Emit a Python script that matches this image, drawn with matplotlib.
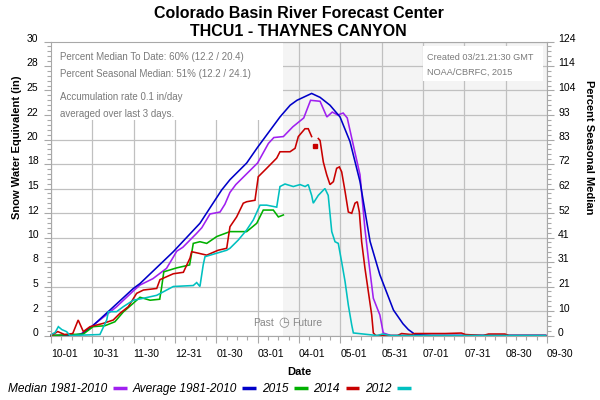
import numpy as np
import matplotlib
matplotlib.use("Agg")
import matplotlib.pyplot as plt
from matplotlib.lines import Line2D
from matplotlib.patches import Rectangle
from matplotlib.transforms import ScaledTranslation, blended_transform_factory

plt.rcParams['font.family'] = ['Liberation Sans', 'DejaVu Sans']

# ---------------- data (day of water year from 10-01, SWE inches) ----------------
median_days = [0, 20, 26, 48, 61, 65.5, 75, 85, 90, 92.5, 97, 102, 107, 111, 114, 117, 124.4, 128, 131.7, 136, 144, 152, 156, 160, 164, 171, 178, 186, 191, 198, 203, 207, 211, 215, 218, 222.5, 227.4, 231, 233.5, 237.2, 240, 242, 244.5, 250, 300, 364]
median_vals = [0, 0, 0.5, 2.9, 4.6, 5.15, 5.8, 6.85, 8.0, 8.6, 9.0, 9.7, 10.4, 11.0, 11.7, 12.4, 12.6, 13.4, 14.6, 15.4, 16.5, 17.6, 18.6, 19.6, 20.2, 20.3, 21.3, 22.2, 24.0, 23.9, 22.3, 22.8, 22.5, 22.7, 22.2, 19.4, 16.4, 10.9, 7.9, 3.8, 2.8, 2.1, 0.26, 0, 0, 0]

average_days = [0, 15, 22.6, 30, 43.4, 60.6, 65.5, 90, 109.6, 125.6, 131.7, 144, 152, 168.5, 176, 181, 191.8, 198, 205.3, 212.7, 220, 227.4, 234.8, 242, 252, 259, 263, 268, 280, 364]
average_vals = [0, 0, 0.15, 0.9, 2.6, 4.8, 5.3, 8.55, 11.45, 14.85, 15.9, 17.6, 19.2, 22.3, 23.5, 24.0, 24.7, 24.3, 23.5, 22.3, 19.8, 15.7, 9.6, 6.2, 2.6, 1.2, 0.6, 0.1, 0, 0]

y2015_days = [0, 15, 23.8, 31, 39.7, 47, 53.2, 60.6, 65.5, 72.9, 80, 81.5, 83, 92.5, 102, 103.5, 104.7, 109.6, 114.6, 122, 131.7, 144, 151.4, 156.2, 163.6, 167.3, 171]
y2015_vals = [0, 0.1, 0.15, 0.9, 1.0, 1.4, 2.4, 3.3, 3.9, 3.6, 3.7, 5.0, 6.5, 6.9, 7.2, 8.4, 9.4, 9.57, 9.4, 10.1, 10.6, 10.6, 11.45, 12.8, 12.8, 12.1, 12.3]

y2014_days = [0, 5, 10, 16, 20, 23.8, 28.7, 38.5, 45.8, 50.8, 56.9, 63, 68, 77.8, 80.2, 90, 97.4, 102.3, 103.5, 108.4, 114.6, 123, 129.3, 131.7, 136.6, 141.5, 144, 150.1, 152.5, 158.7, 166.1, 168.5, 175.9, 179.6, 182, 186.9, 189.3, 191.8, 193, 194.3, 195.5, 196.7, 198, 200.4, 202.9, 205.3, 207.8, 210.2, 212.2, 213.9, 216.4, 218.8, 221.3, 223.7, 225.4, 226.9, 228.6, 231, 233.5, 236, 237.2, 239, 255, 258, 265, 268, 272, 290, 302, 305, 318, 322, 334, 337, 364]
y2014_vals = [0, 0.4, 0.1, 0.2, 1.58, 0.4, 0.9, 1.24, 1.58, 2.27, 2.94, 4.3, 4.64, 4.8, 5.7, 6.3, 6.45, 7.9, 8.55, 8.4, 8.2, 8.7, 8.9, 11.1, 12.1, 13.5, 13.65, 13.8, 16.2, 17.06, 18.1, 18.75, 18.75, 19.1, 20.3, 21.1, 21.1, 20.3, np.nan, 19.3, np.nan, 20.1, 19.9, 17.7, 16.4, 15.4, 15.7, 17.06, 17.2, 16.7, 14.7, 12.6, 12.47, 13.5, 13.65, 12.6, 9.57, 6.9, 4.5, 2.1, 0.26, 0, 0, 0.2, 0.1, 0.2, 0.2, 0.2, 0.25, 0.1, 0, 0.15, 0.15, 0, 0]

y2012_days = [0, 3, 5.4, 8, 11.5, 14, 36, 41, 42.2, 48.3, 53.2, 60.6, 68, 77.8, 90, 104.7, 107.2, 109.6, 112, 113.3, 122, 129.3, 131.7, 137.8, 144, 148.9, 153.8, 158.7, 166.1, 168.5, 172.2, 178.3, 183.3, 187, 189.3, 191.8, 193, 196.7, 201.6, 204, 206.6, 209, 211.4, 213.9, 216.4, 218.8, 221.3, 222.5, 240, 244, 250, 364]
y2012_vals = [0.1, 0.3, 0.9, 0.6, 0.39, 0, 0.1, 1.58, 2.43, 2.43, 2.94, 3.6, 3.8, 4.1, 5.0, 5.1, 5.4, 5.0, 7.2, 8.04, 8.4, 8.7, 8.9, 9.74, 10.77, 11.8, 13.3, 13.3, 13.1, 15.2, 15.46, 15.2, 15.4, 15.2, 15.4, 14.3, 13.5, 14.3, 15.0, 14.3, 10.6, 9.57, 9.4, 7.5, 5.5, 3.1, 1.07, 0.26, 0, 0.15, 0, 0]

series_names = ['Median 1981-2010', 'Average 1981-2010', '2015', '2014', '2012']
series_colors = ['#a020f0', '#0000c8', '#00b000', '#c80000', '#00c0c0']

x_tick_labels = ['10-01', '10-31', '11-30', '12-31', '01-30', '03-01', '04-01',
                 '05-01', '05-31', '07-01', '07-31', '08-30', '09-30']
right_tick_labels = ['0', '10', '21', '31', '41', '52', '62', '72', '83', '93', '104', '114', '124']
today_day = 171  # 03-21

# ---------------- figure ----------------
fig = plt.figure(figsize=(6, 4), dpi=100)
ax = fig.add_axes([51/600, 1-335.5/400, 496/600, 294/400])
ax.set_xlim(0, 365)
ax.set_ylim(0, 30)

grid_c = '#c0c0c0'
spine_c = '#a8a8a8'
txt_c = '#7a7a7a'

# future shading
ax.axvspan(today_day, 365, color='#f4f4f4', zorder=0, lw=0)

# ticks
major_x = np.arange(13) * 365/12
ax.set_xticks(major_x)
ax.set_xticklabels(x_tick_labels, fontsize=7.5)
ax.set_xticks(np.arange(49) * 365/48, minor=True)
major_y = np.arange(0, 30.01, 2.5)
ax.set_yticks(major_y)
ax.set_yticklabels([str(round(v)) for v in major_y], fontsize=7.5)
ax.set_yticks(np.arange(0, 30.01, 0.5), minor=True)
ax.tick_params(axis='both', which='major', length=5, color=spine_c, width=0.8, pad=4)
ax.tick_params(axis='both', which='minor', length=3, color=spine_c, width=0.8)
ax.tick_params(axis='x', which='major', pad=5)
for lbl in ax.get_xticklabels():
    lbl.set_ha('left')
for lbl in ax.get_yticklabels():
    lbl.set_transform(lbl.get_transform() + ScaledTranslation(0, 3.5/100, fig.dpi_scale_trans))
ax.grid(True, which='major', color=grid_c, lw=0.9, zorder=0.5)
ax.set_axisbelow(True)
for s in ax.spines.values():
    s.set_color(spine_c)
    s.set_linewidth(0.8)

ax2 = ax.twinx()
ax2.set_ylim(0, 30)
ax2.set_yticks(major_y)
ax2.set_yticklabels(right_tick_labels, fontsize=7.5)
ax2.set_yticks(np.arange(0, 30.01, 0.5), minor=True)
ax2.tick_params(axis='y', which='major', length=5, color=spine_c, width=0.8, pad=3)
ax2.tick_params(axis='y', which='minor', length=3, color=spine_c, width=0.8)
for lbl in ax2.get_yticklabels():
    lbl.set_transform(lbl.get_transform() + ScaledTranslation(0, 3.5/100, fig.dpi_scale_trans))
for s in ax2.spines.values():
    s.set_visible(False)

# text boxes
ax.add_patch(Rectangle((0, 0.733), 0.468, 0.267, transform=ax.transAxes,
                       facecolor='white', edgecolor='none', zorder=1))
ax.add_patch(Rectangle((0.75, 0.866), 0.242, 0.119, transform=ax.transAxes,
                       facecolor='white', edgecolor='none', zorder=1))
left_lines = ['Percent Median To Date: 60% (12.2 / 20.4)',
              'Percent Seasonal Median: 51% (12.2 / 24.1)',
              'Accumulation rate 0.1 in/day',
              'averaged over last 3 days.']
for t, yy in zip(left_lines, [0.947, 0.889, 0.811, 0.753]):
    ax.text(0.018, yy, t, transform=ax.transAxes, fontsize=7, color=txt_c,
            va='center', ha='left', zorder=1.5)
for t, yy in zip(['Created 03/21.21:30 GMT', 'NOAA/CBRFC, 2015'], [0.947, 0.896]):
    ax.text(0.758, yy, t, transform=ax.transAxes, fontsize=6.6, color=txt_c,
            va='center', ha='left', zorder=1.5)

# data lines
all_days = [median_days, average_days, y2015_days, y2014_days, y2012_days]
all_vals = [median_vals, average_vals, y2015_vals, y2014_vals, y2012_vals]
for d, v, c in zip(all_days, all_vals, series_colors):
    d = np.asarray(d, float)
    v = np.asarray(v, float)
    ax.plot(d, v, color=c, lw=1.15, zorder=2, clip_on=False, solid_joinstyle='miter')
    # isolated points (neighbours missing) shown as small squares
    for i in range(1, len(v)-1):
        if np.isnan(v[i-1]) and np.isnan(v[i+1]) and not np.isnan(v[i]):
            ax.plot([d[i]], [v[i]], marker='s', ms=3, color=c, zorder=2)

# past / future
tr = blended_transform_factory(ax.transData, ax.transAxes)
ax.text(today_day, 0.043, '\u25F7', transform=tr, ha='center', va='center',
        fontsize=9, color='#888888', family=['DejaVu Sans'], zorder=1.5)
ax.annotate('Past', xy=(today_day, 0.043), xycoords=tr, xytext=(-7, 0),
            textcoords='offset points', ha='right', va='center', fontsize=7.5, color='#888888')
ax.annotate('Future', xy=(today_day, 0.043), xycoords=tr, xytext=(6, 0),
            textcoords='offset points', ha='left', va='center', fontsize=7.5, color='#888888')

# titles and labels
fig.text(0.498, 1-14/400, 'Colorado Basin River Forecast Center', ha='center', va='center',
         fontsize=11.5, fontweight='bold')
fig.text(0.498, 1-32/400, 'THCU1 - THAYNES CANYON', ha='center', va='center',
         fontsize=11.5, fontweight='bold')
fig.text(17/600, 1-147/400, 'Snow Water Equivalent (in)', rotation=90, ha='center', va='center',
         fontsize=8, fontweight='bold')
fig.text(589/600, 1-147/400, 'Percent Seasonal Median', rotation=270, ha='center', va='center',
         fontsize=8, fontweight='bold')
fig.text(299/600, 1-372/400, 'Date', ha='center', va='center', fontsize=8, fontweight='bold')

# legend
handles = [Line2D([], [], color=c, lw=2.5, solid_capstyle='butt') for c in series_colors]
fig.legend(handles, series_names, loc='center left', bbox_to_anchor=(0.013, 1-389/400),
           ncol=5, frameon=False, markerfirst=False, handlelength=1.15, handletextpad=0.5,
           columnspacing=0.45, borderpad=0, borderaxespad=0,
           prop={'style': 'italic', 'size': 8.6})

fig.savefig('out.png', dpi=100)
